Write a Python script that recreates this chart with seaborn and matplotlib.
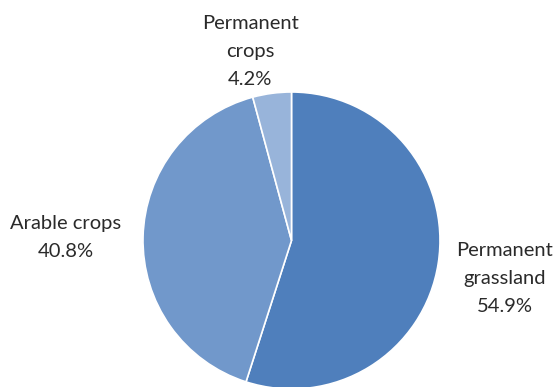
import matplotlib
matplotlib.use("Agg")
import matplotlib.pyplot as plt
import seaborn as sns

categories = ["Permanent\ngrassland", "Arable crops", "Permanent\ncrops"]
shares = [54.9, 40.8, 4.2]
colors = ["#4F7FBC", "#7198CB", "#98B4DA"]

sns.set_theme(style="white")
plt.rcParams['font.family'] = ['Lato', 'DejaVu Sans']

fig = plt.figure(figsize=(5.6, 3.87), dpi=100)
ax = fig.add_axes([0, 0, 1, 1])

ax.pie(shares, colors=colors, startangle=90, counterclock=False,
       center=(291.5, 146.5), radius=148.5,
       wedgeprops=dict(edgecolor="white", linewidth=1.2), frame=True)
ax.set_xlim(0, 560)
ax.set_ylim(0, 387)
ax.set_aspect("auto")
ax.axis("off")

# label anchor: (x centre, baseline of last line measured from top)
label_pos = [(505, 312), (66, 257), (250, 85)]
for cat, val, (x, y) in zip(categories, shares, label_pos):
    ax.text(x, 387 - y, f"{cat}\n{val:.1f}%", ha="center", va="baseline",
            multialignment="center",
            fontsize=14.5, color="#2a2a2a", linespacing=1.78)

fig.savefig("out.png", dpi=100)
